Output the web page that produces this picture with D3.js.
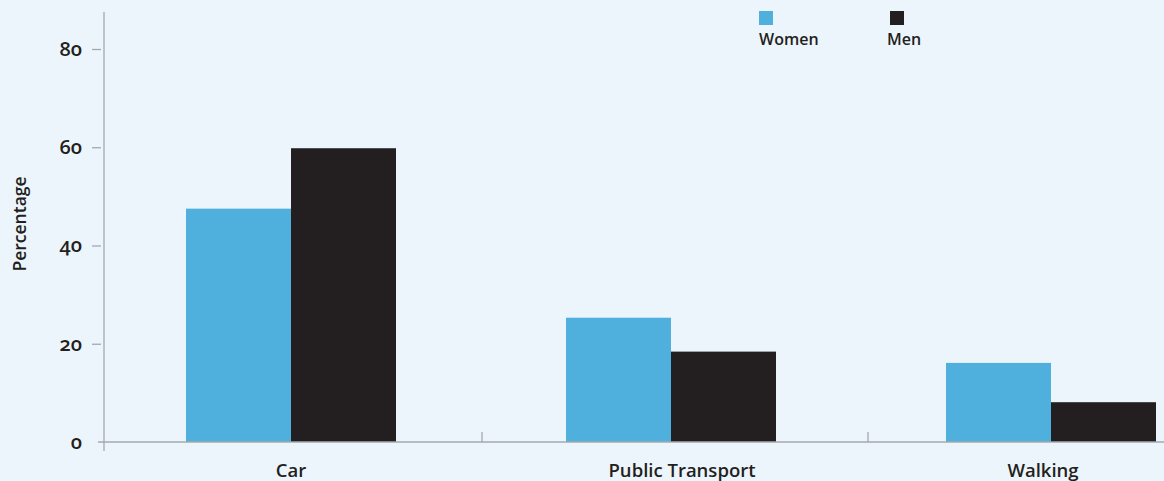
<!DOCTYPE html>
<html>
<head>
<meta charset="utf-8">
<script src="https://cdn.jsdelivr.net/npm/d3@7"></script>
<style>
  html, body { margin: 0; padding: 0; background: #edf5fc; }
  svg { display: block; }
  text { font-family: "Open Sans", "DejaVu Sans", sans-serif; fill: #231f20; }
  .onum { font-variant-numeric: oldstyle-nums; font-feature-settings: "onum" 1; }
</style>
</head>
<body>
<svg id="chart" width="1164" height="481"></svg>
<script>
// Travel mode share by sex (%)
const categories = ["Car", "Public Transport", "Walking"];
const seriesNames = ["Women", "Men"];
const women = [47.5, 25.3, 16.1];
const men = [59.8, 18.4, 8.1];
const yTicks = [0, 20, 40, 60, 80];

const colors = { Women: "#4fafdd", Men: "#231f20" };
const values = { Women: women, Men: men };

const svg = d3.select("#chart");
const W = 1164, H = 481;

const y = d3.scaleLinear().domain([0, 80]).range([442, 49]);
const x = d3.scaleBand().domain(categories).range([101, 1241]).padding(0);
const xs = d3.scaleBand().domain(seriesNames).range([85, 295]).padding(0);

// Bars
const groups = svg.append("g").selectAll("g")
  .data(categories)
  .join("g")
  .attr("transform", d => `translate(${x(d)},0)`);

groups.selectAll("rect")
  .data((c, i) => seriesNames.map(s => ({ s, v: values[s][i] })))
  .join("rect")
  .attr("x", d => xs(d.s))
  .attr("width", xs.bandwidth())
  .attr("y", d => y(d.v))
  .attr("height", d => y(0) - y(d.v))
  .attr("fill", d => colors[d.s]);

// Y axis
const axisColor = "#a3a8ad";
svg.append("line")
  .attr("x1", 104).attr("x2", 104)
  .attr("y1", 12).attr("y2", 451)
  .attr("stroke", axisColor).attr("stroke-width", 1.3);

const yAxis = svg.append("g").attr("transform", "translate(101,0)")
  .call(d3.axisLeft(y).tickValues(yTicks).tickSize(9).tickPadding(10).tickFormat(d3.format("d")));
yAxis.select(".domain").remove();
yAxis.selectAll(".tick line").attr("stroke", axisColor).attr("stroke-width", 1.3);
yAxis.selectAll(".tick").filter(d => d === 0).select("line").remove();
yAxis.selectAll(".tick text")
  .attr("class", "onum")
  .attr("font-size", 20).attr("font-weight", 600)
  .style("font-family", '"Open Sans", sans-serif')
  .attr("fill", "#231f20")
  .attr("x", -19);

// X axis baseline
svg.append("line")
  .attr("x1", 98).attr("x2", W)
  .attr("y1", y(0)).attr("y2", y(0))
  .attr("stroke", axisColor).attr("stroke-width", 1.3);

// Category dividers
svg.append("g").selectAll("line")
  .data(categories.slice(1))
  .join("line")
  .attr("x1", (d, i) => x(d) + 1 + i * 6).attr("x2", (d, i) => x(d) + 1 + i * 6)
  .attr("y1", y(0) - 10).attr("y2", y(0))
  .attr("stroke", axisColor).attr("stroke-width", 1.3);

// Category labels (slight per-label nudges)
const labelNudge = [0, 11, -8];
svg.append("g").selectAll("text")
  .data(categories)
  .join("text")
  .attr("x", (d, i) => x(d) + x.bandwidth() / 2 + labelNudge[i])
  .attr("y", 477)
  .attr("text-anchor", "middle")
  .attr("font-size", 18.5).attr("font-weight", 600)
  .text(d => d);

// Y axis title
svg.append("text")
  .attr("transform", "translate(26,224) rotate(-90)")
  .attr("text-anchor", "middle")
  .attr("font-size", 17.5).attr("font-weight", 600)
  .text("Percentage");

// Legend
const legendX = { Women: 759, Men: 890 };
const legend = svg.append("g").selectAll("g")
  .data(seriesNames)
  .join("g")
  .attr("transform", d => `translate(${legendX[d]},11)`);
legend.append("rect")
  .attr("width", 14).attr("height", 14)
  .attr("fill", d => colors[d]);
legend.append("text")
  .attr("x", d => d === "Men" ? -3 : 0)
  .attr("y", 34)
  .attr("font-size", 16).attr("font-weight", 600)
  .text(d => d);
</script>
</body>
</html>
